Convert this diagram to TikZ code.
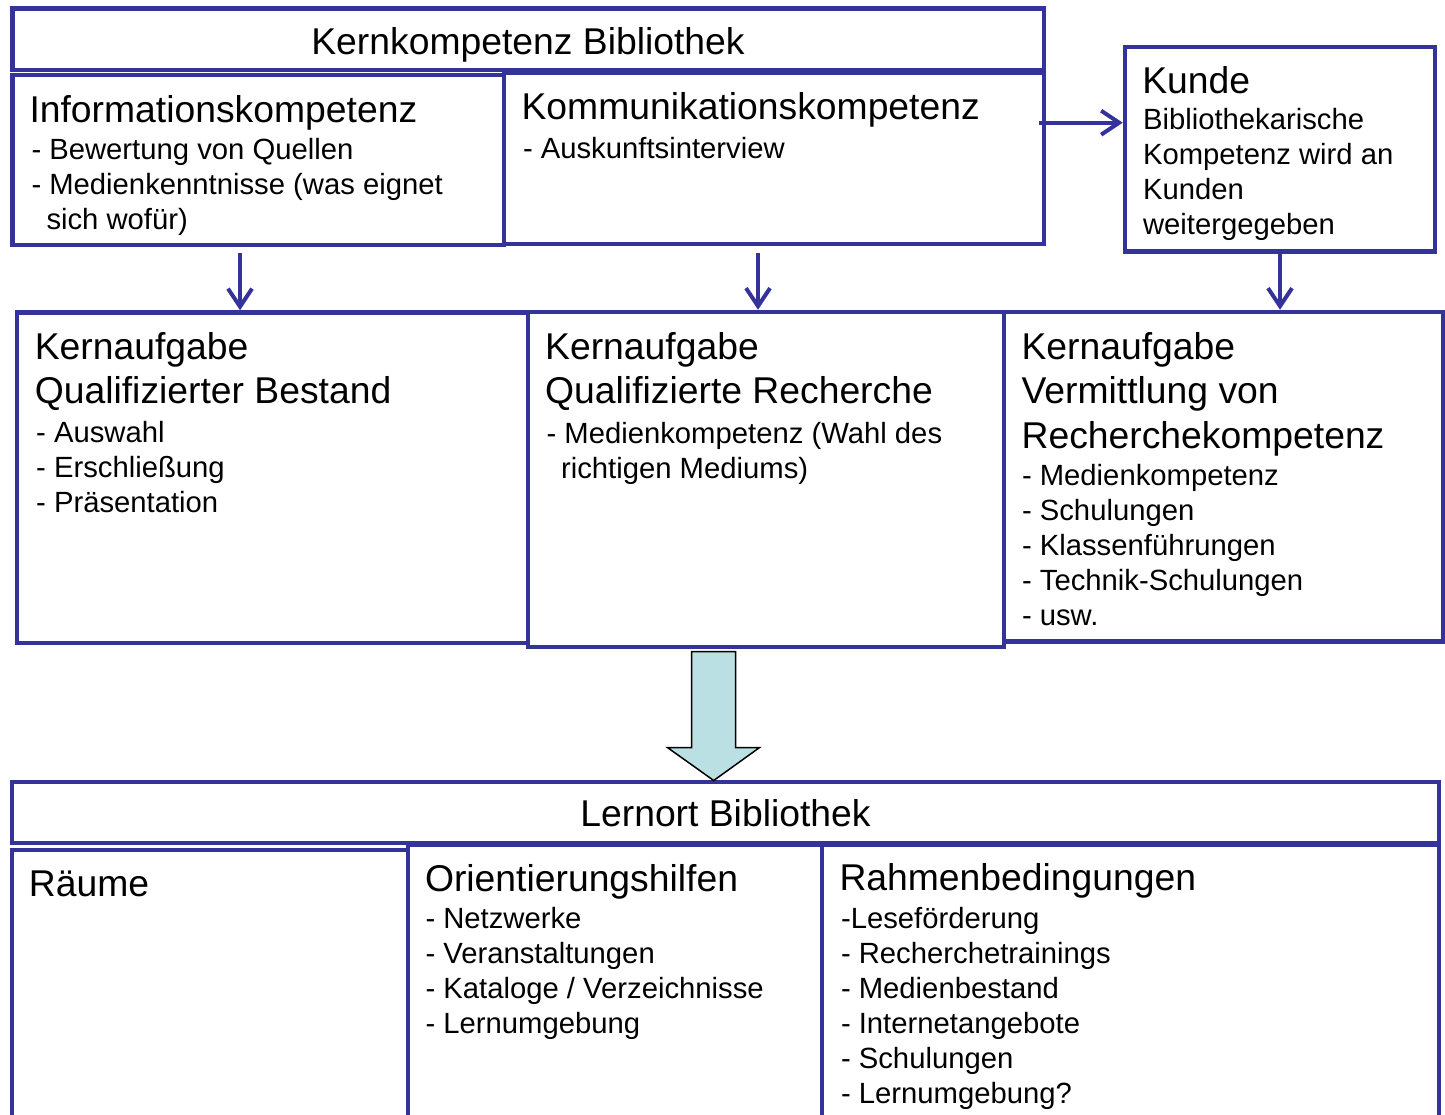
\documentclass[tikz,border=0pt]{standalone}
\usepackage{fontspec}
\setmainfont{Liberation Sans}
\usetikzlibrary{arrows.meta,calc}
\definecolor{kbblue}{HTML}{333399}
\definecolor{kbcyan}{HTML}{BBE0E3}
\newcommand\kbhead{\fontsize{37.3}{44.3}\selectfont}
\newcommand\kbitem{\fontsize{29.25}{35}\selectfont}
\begin{document}
\begin{tikzpicture}[x=1pt,y=-1pt,
  box/.style={draw=kbblue,line width=4.5pt,inner sep=0pt,outer sep=0pt,anchor=north west},
  txt/.style={inner sep=0pt,outer sep=0pt,anchor=base west,align=left,text=black},
  hd/.style={txt,font=\kbhead},
  itm/.style={txt,font=\kbitem},
  arr/.style={draw=kbblue,line width=4pt,-{Straight Barb[length=18pt,width=24pt]}},
  bigarrow/.style={draw=black,line width=1.5pt,fill=kbcyan,line join=miter}]
\useasboundingbox (0,0) rectangle (1445,1115);
\clip (0,0) rectangle (1445,1115);
\fill[white] (0,0) rectangle (1445,1115);
% boxes
\node[box,minimum width=1031.5pt,minimum height=61.5pt] (title) at (12.5,8.5) {};
\node[box,minimum width=491.5pt,minimum height=170pt] (info) at (12.5,75) {};
\node[box,minimum width=540pt,minimum height=171pt] (komm) at (504,73) {};
\node[box,minimum width=310pt,minimum height=204.5pt] (kunde) at (1125,47) {};
\node[box,minimum width=511pt,minimum height=330.5pt] (ka1) at (17,312.5) {};
\node[box,minimum width=439.5pt,minimum height=329.5pt] (ka3) at (1004,312) {};
\node[box,minimum width=476pt,minimum height=335pt] (ka2) at (528,312) {};
\node[box,minimum width=1427pt,minimum height=61pt] (lern) at (12,782) {};
\node[box,minimum width=396pt,minimum height=300pt] (raeume) at (12,850) {};
\node[box,minimum width=414pt,minimum height=305pt] (orient) at (408,845) {};
\node[box,minimum width=617pt,minimum height=305pt] (rahmen) at (822,845) {};
% texts (multi-line nodes: base anchor is on the last line)
\node[txt,font=\kbhead,anchor=base] (titletxt) at (528,55) {Kernkompetenz Bibliothek};
\node[hd] (infoh) at (29.5,122.7) {Informationskompetenz};
\node[itm] (infoi) at (31.5,229.2) {- Bewertung von Quellen\\- Medienkenntnisse (was eignet\\\hspace*{15pt}sich wofür)};
\node[hd] (kommh) at (521.6,119.3) {Kommunikationskompetenz};
\node[itm] (kommi) at (523,158.3) {- Auskunftsinterview};
\node[hd] (kundeh) at (1142.3,93.3) {Kunde};
\node[itm] (kundei) at (1143,235) {Bibliothekarische\\Kompetenz wird an\\Kunden\\weitergegeben};
\node[hd] (ka1h) at (34.8,403.8) {Kernaufgabe\\Qualifizierter Bestand};
\node[itm] (ka1i) at (36.2,512.9) {- Auswahl\\- Erschließung\\- Präsentation};
\node[hd] (ka2h) at (545.2,403.3) {Kernaufgabe\\Qualifizierte Recherche};
\node[itm] (ka2i) at (546.6,478) {- Medienkompetenz (Wahl des\\\hspace*{14.5pt}richtigen Mediums)};
\node[hd] (ka3h) at (1021.6,448) {Kernaufgabe\\Vermittlung von\\Recherchekompetenz};
\node[itm] (ka3i) at (1022,625) {- Medienkompetenz\\- Schulungen\\- Klassenführungen\\- Technik-Schulungen\\- usw.};
\node[txt,font=\kbhead,anchor=base] (lerntxt) at (725.5,826) {Lernort Bibliothek};
\node[hd] (raeumeh) at (28.9,896.7) {Räume};
\node[hd] (orienth) at (425,891.7) {Orientierungshilfen};
\node[itm] (orienti) at (425.5,1033.3) {- Netzwerke\\- Veranstaltungen\\- Kataloge / Verzeichnisse\\- Lernumgebung};
\node[hd] (rahmenh) at (839.5,890.7) {Rahmenbedingungen};
\node[itm] (rahmeni) at (841,1103.3) {-Leseförderung\\- Recherchetrainings\\- Medienbestand\\- Internetangebote\\- Schulungen\\- Lernumgebung?};
% connectors
\draw[arr] ($(240,0 |- info.south)+(0,8)$) -- ($(240,0 |- ka1.north)+(0,-2.25)$);
\draw[arr] ($(758,0 |- komm.south)+(0,9.3)$) -- ($(758,0 |- ka2.north)+(0,-2.25)$);
\draw[arr] (1280,0 |- kunde.south) -- ($(1280,0 |- ka3.north)+(0,-2.25)$);
\draw[arr] ($(komm.east |- 0,122.7)+(-4.7,0)$) -- ($(kunde.west |- 0,122.7)+(-2.25,0)$);
% big block arrow from ka2 to lern
\draw[bigarrow] (691.7,651.5) -- (735.7,651.5) -- (735.7,747.7) -- (759.3,747.7)
  -- (713.7,780.5) -- (667.7,747.7) -- (691.7,747.7) -- cycle;
\end{tikzpicture}
\end{document}
